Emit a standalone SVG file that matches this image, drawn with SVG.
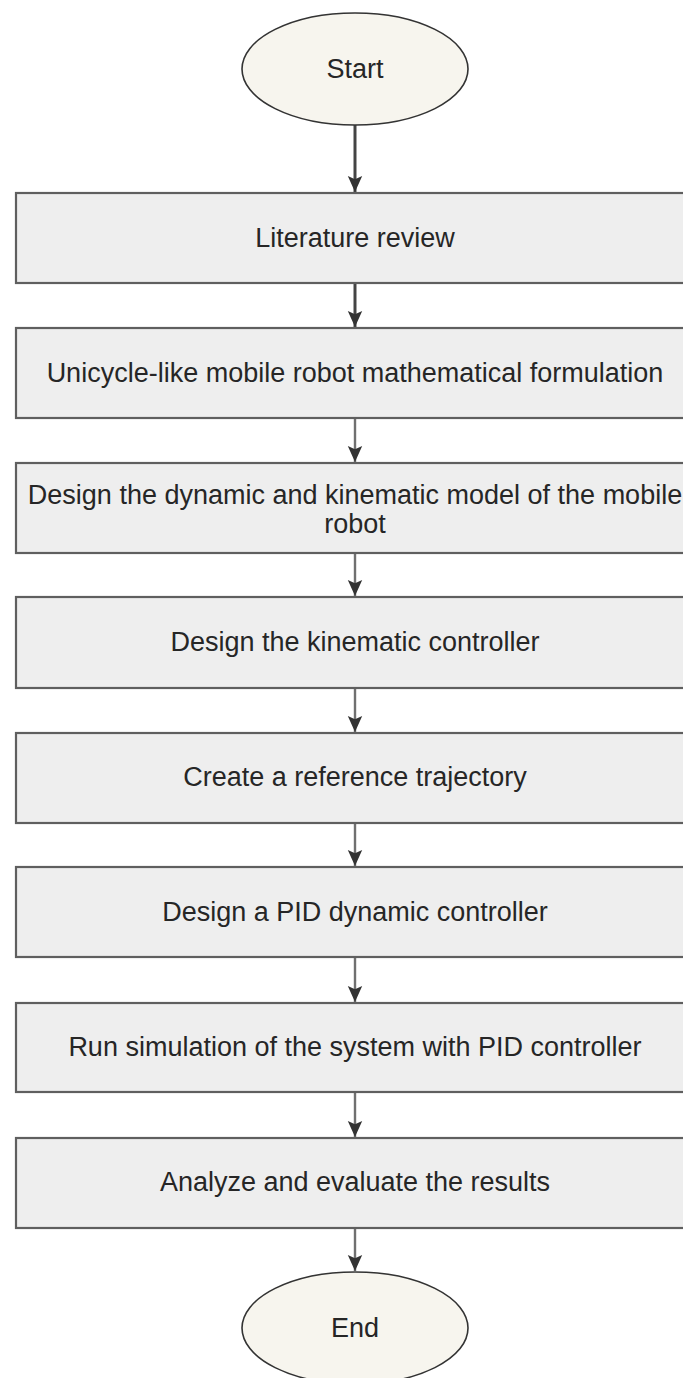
<svg xmlns="http://www.w3.org/2000/svg" width="683" height="1378" viewBox="0 0 683 1378">
<defs>
<style>
.box{fill:#eeeeee;stroke:#5f5f5f;stroke-width:2.2}
.term{fill:#f7f5ee;stroke:#333333;stroke-width:1.6}
.lbl{font-family:"Liberation Sans",Arial,sans-serif;font-size:27px;fill:#262626;text-anchor:middle;dominant-baseline:central}
.edge{stroke:#707070;stroke-width:2.4;fill:none}
.edge.dark{stroke:#444444;stroke-width:3}
</style>
<marker id="arr" viewBox="0 0 10 10" refX="10" refY="5" markerWidth="16" markerHeight="16" markerUnits="userSpaceOnUse" orient="auto">
<path d="M0,0.5 L10,5 L0,9.5 L2,5 Z" fill="#333333"/>
</marker>
</defs>
<rect width="683" height="1378" fill="#ffffff"/>
<g id="connectors">
<line class="edge dark" x1="355" y1="125" x2="355" y2="192" marker-end="url(#arr)"/>
<line class="edge dark" x1="355" y1="284" x2="355" y2="327" marker-end="url(#arr)"/>
<line class="edge" x1="355" y1="419" x2="355" y2="462" marker-end="url(#arr)"/>
<line class="edge" x1="355" y1="554" x2="355" y2="596" marker-end="url(#arr)"/>
<line class="edge" x1="355" y1="689" x2="355" y2="732" marker-end="url(#arr)"/>
<line class="edge" x1="355" y1="824" x2="355" y2="866" marker-end="url(#arr)"/>
<line class="edge" x1="355" y1="958" x2="355" y2="1002" marker-end="url(#arr)"/>
<line class="edge" x1="355" y1="1093" x2="355" y2="1137" marker-end="url(#arr)"/>
<line class="edge" x1="355" y1="1229" x2="355" y2="1271" marker-end="url(#arr)"/>
</g>
<g id="start">
<ellipse class="term" cx="355" cy="69" rx="113" ry="56"/>
<text class="lbl" x="355" y="69">Start</text>
</g>
<g id="n1">
<rect class="box" x="16" y="193" width="678" height="90"/>
<text class="lbl" x="355" y="238">Literature review</text>
</g>
<g id="n2">
<rect class="box" x="16" y="328" width="678" height="90"/>
<text class="lbl" x="355" y="373">Unicycle-like mobile robot mathematical formulation</text>
</g>
<g id="n3">
<rect class="box" x="16" y="463" width="678" height="90"/>
<text class="lbl" x="355" y="495">Design the dynamic and kinematic model of the mobile</text>
<text class="lbl" x="355" y="524">robot</text>
</g>
<g id="n4">
<rect class="box" x="16" y="597" width="678" height="91"/>
<text class="lbl" x="355" y="642">Design the kinematic controller</text>
</g>
<g id="n5">
<rect class="box" x="16" y="733" width="678" height="90"/>
<text class="lbl" x="355" y="777">Create a reference trajectory</text>
</g>
<g id="n6">
<rect class="box" x="16" y="867" width="678" height="90"/>
<text class="lbl" x="355" y="912">Design a PID dynamic controller</text>
</g>
<g id="n7">
<rect class="box" x="16" y="1003" width="678" height="89"/>
<text class="lbl" x="355" y="1047">Run simulation of the system with PID controller</text>
</g>
<g id="n8">
<rect class="box" x="16" y="1138" width="678" height="90"/>
<text class="lbl" x="355" y="1182">Analyze and evaluate the results</text>
</g>
<g id="end">
<ellipse class="term" cx="355" cy="1328" rx="113" ry="56"/>
<text class="lbl" x="355" y="1328">End</text>
</g>
</svg>
